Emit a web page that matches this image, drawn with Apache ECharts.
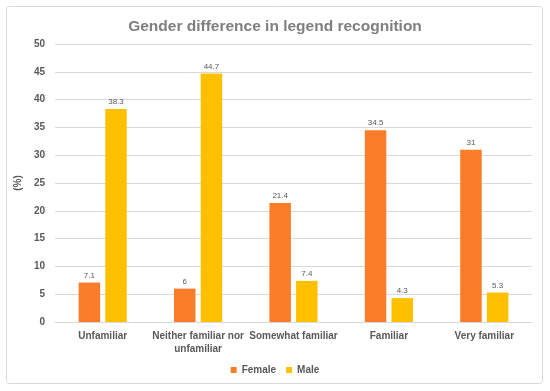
<!DOCTYPE html>
<html><head><meta charset="utf-8">
<script src="https://cdn.jsdelivr.net/npm/echarts@6/dist/echarts.min.js"></script>
<style>html,body{margin:0;padding:0;background:#fff}#c{width:550px;height:391px}</style>
</head><body><div id="c"></div>
<script>
const categories = ['Unfamiliar', 'Neither familiar nor\nunfamiliar', 'Somewhat familiar', 'Familiar', 'Very familiar'];
const female = [7.1, 6, 21.4, 34.5, 31];
const male = [38.3, 44.7, 7.4, 4.3, 5.3];
const chart = echarts.init(document.getElementById('c'));
const lbl = {show: true, position: 'top', color: '#595959', fontSize: 8, fontFamily: 'Liberation Sans', distance: 3};
chart.setOption({
  animation: false,
  graphic: [{type: 'rect', shape: {x: 6.5, y: 6.5, width: 536, height: 377, r: 3}, style: {fill: 'none', stroke: '#d9d9d9', lineWidth: 1}}],
  title: {text: 'Gender difference in legend recognition', left: 'center', top: 14,
    textStyle: {color: '#7f7f7f', fontSize: 15.5, fontWeight: 'bold', fontFamily: 'Liberation Sans'}},
  legend: {top: 360, itemWidth: 6, itemHeight: 6, itemGap: 10, icon: 'rect',
    textStyle: {color: '#595959', fontSize: 10, fontWeight: 'bold', fontFamily: 'Liberation Sans'}},
  grid: {left: 55, right: 18, top: 44, bottom: 69, containLabel: false, outerBoundsMode: 'none'},
  xAxis: {type: 'category', data: categories,
    axisLine: {lineStyle: {color: '#d9d9d9'}}, axisTick: {show: false},
    axisLabel: {color: '#595959', fontSize: 10, fontWeight: 'bold', fontFamily: 'Liberation Sans', interval: 0, margin: 8, lineHeight: 13}},
  yAxis: {type: 'value', min: 0, max: 50, interval: 5, name: '(%)', nameLocation: 'middle', nameGap: 30, nameRotate: 90,
    nameTextStyle: {color: '#595959', fontSize: 10, fontWeight: 'bold', fontFamily: 'Liberation Sans'},
    axisLine: {show: false}, axisTick: {show: false},
    splitLine: {lineStyle: {color: '#d9d9d9'}},
    axisLabel: {color: '#595959', fontSize: 10, fontWeight: 'bold', fontFamily: 'Liberation Sans', margin: 10}},
  series: [
    {name: 'Female', type: 'bar', data: female, barWidth: 21.5, barGap: '24%', itemStyle: {color: '#fb7d2a'}, label: lbl},
    {name: 'Male', type: 'bar', data: male, barWidth: 21.5, itemStyle: {color: '#ffc000'}, label: lbl}
  ]
});
</script></body></html>
